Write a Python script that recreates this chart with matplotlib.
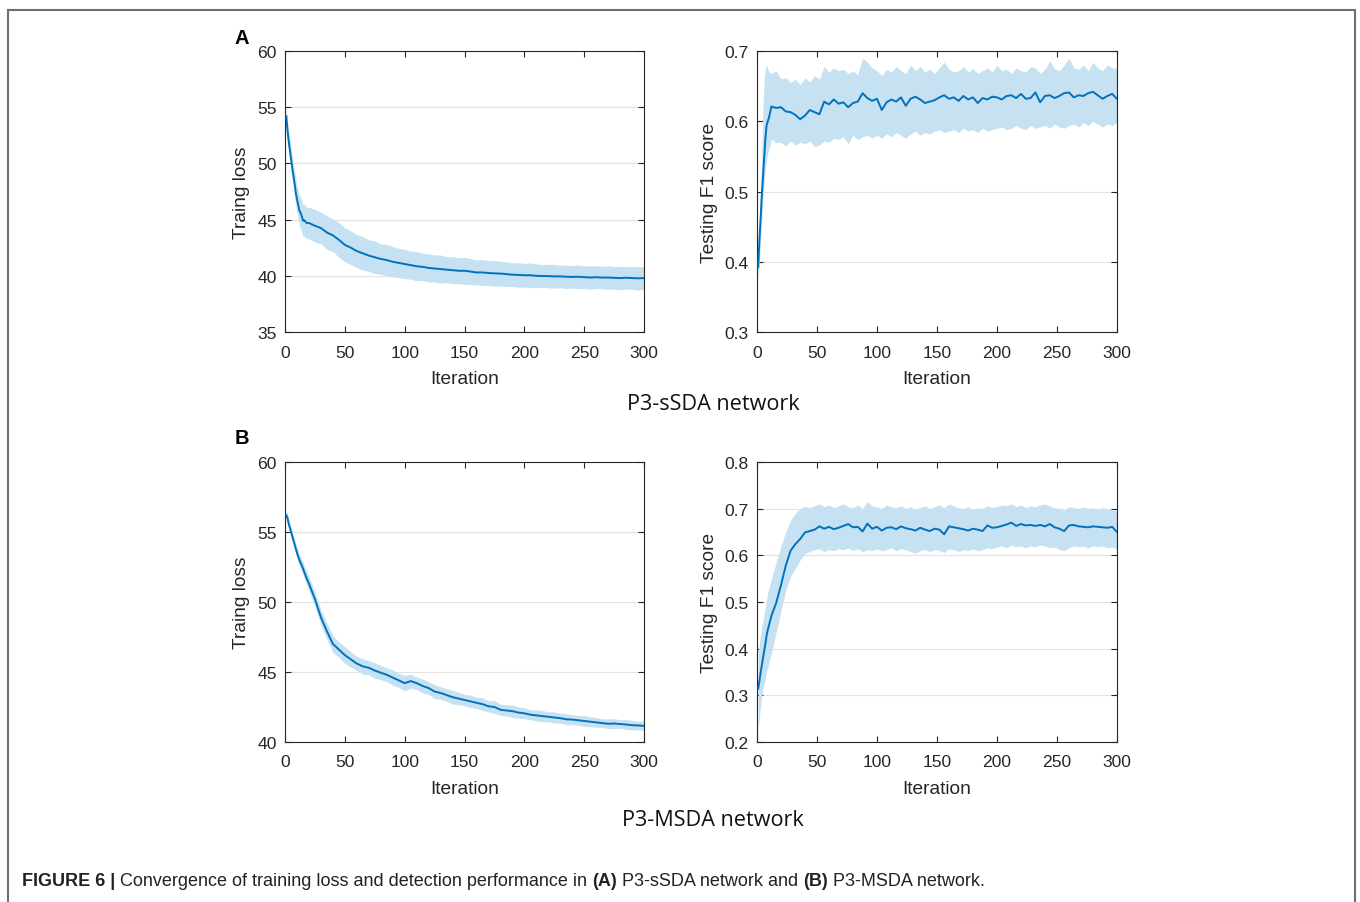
import matplotlib
matplotlib.use('Agg')
import matplotlib.pyplot as plt
from matplotlib.patches import Rectangle

# ---- data ---------------------------------------------------------------
iters_loss = [1, 2, 3, 4, 5, 6, 7, 8, 9, 10, 11, 12, 13, 14, 15, 16, 18, 20] + list(range(25, 301, 5))
iters_f1 = [1, 2, 3, 4, 5, 6, 7, 8, 9, 10] + list(range(12, 301, 4))
iter_ticks = [0, 50, 100, 150, 200, 250, 300]

# (A) P3-sSDA: training loss mean and half band width
loss_a_mean = [54.2, 53.0, 52.0, 51.2, 50.4, 49.6, 48.9, 48.2, 47.4, 46.8, 46.3, 45.8, 45.6, 45.3, 44.9, 44.95, 44.7, 44.7,
               44.45, 44.25, 43.85, 43.6, 43.2, 42.75, 42.5, 42.2, 42.0, 41.8,
               41.65, 41.5, 41.4, 41.25, 41.15, 41.05, 40.95, 40.85, 40.8, 40.7,
               40.65, 40.6, 40.55, 40.5, 40.45, 40.45, 40.38, 40.3, 40.3, 40.25,
               40.22, 40.2, 40.15, 40.1, 40.08, 40.05, 40.05, 40.0, 39.98, 39.98,
               39.95, 39.95, 39.92, 39.9, 39.92, 39.88, 39.85, 39.88, 39.84, 39.85,
               39.82, 39.8, 39.83, 39.8, 39.78, 39.8]
loss_a_spread = [0.8, 0.85, 0.9, 0.95, 1.0, 1.05, 1.1, 1.15, 1.2, 1.25, 1.3, 1.35, 1.4, 1.4, 1.4, 1.45, 1.4, 1.4,
                 1.45, 1.4, 1.5, 1.45, 1.55, 1.5, 1.5, 1.45, 1.5, 1.4,
                 1.45, 1.35, 1.4, 1.35, 1.3, 1.3, 1.25, 1.3, 1.2, 1.25,
                 1.2, 1.25, 1.15, 1.2, 1.15, 1.2, 1.15, 1.1, 1.15, 1.1,
                 1.15, 1.1, 1.1, 1.05, 1.1, 1.05, 1.1, 1.05, 1.0, 1.05,
                 1.05, 1.0, 1.05, 1.0, 1.05, 1.0, 1.05, 1.0, 1.0, 1.05,
                 1.0, 1.05, 1.0, 1.0, 1.05, 1.0]

# (A) P3-sSDA: testing F1 mean, upper and lower band
f1_a_mean = [0.392, 0.43, 0.46, 0.494, 0.52, 0.548, 0.575, 0.594, 0.6, 0.605,
             0.621, 0.619, 0.62, 0.614, 0.613, 0.609, 0.603, 0.608, 0.616, 0.613,
             0.61, 0.628, 0.624, 0.631, 0.625, 0.627, 0.62, 0.626, 0.628, 0.64,
             0.633, 0.629, 0.632, 0.616, 0.627, 0.631, 0.628, 0.634, 0.622, 0.632,
             0.635, 0.631, 0.626, 0.628, 0.63, 0.634, 0.637, 0.632, 0.634, 0.629,
             0.636, 0.631, 0.634, 0.626, 0.633, 0.631, 0.635, 0.634, 0.631, 0.636,
             0.637, 0.633, 0.639, 0.632, 0.633, 0.641, 0.627, 0.636, 0.637, 0.633,
             0.636, 0.64, 0.641, 0.634, 0.637, 0.636, 0.64, 0.642, 0.637, 0.632,
             0.636, 0.639, 0.632]
f1_a_upper = [0.40, 0.45, 0.5, 0.56, 0.62, 0.66, 0.675, 0.68, 0.675, 0.67,
              0.668, 0.672, 0.66, 0.662, 0.655, 0.66, 0.652, 0.662, 0.656, 0.665,
              0.66, 0.678, 0.67, 0.676, 0.672, 0.674, 0.668, 0.672, 0.666, 0.69,
              0.684, 0.676, 0.672, 0.665, 0.674, 0.67, 0.678, 0.672, 0.668, 0.68,
              0.672, 0.678, 0.67, 0.674, 0.668, 0.676, 0.684, 0.674, 0.67, 0.672,
              0.678, 0.67, 0.675, 0.668, 0.672, 0.676, 0.67, 0.68, 0.672, 0.674,
              0.668, 0.676, 0.672, 0.67, 0.678, 0.676, 0.668, 0.674, 0.686, 0.675,
              0.672, 0.68, 0.69, 0.676, 0.674, 0.68, 0.672, 0.684, 0.676, 0.672,
              0.68, 0.676, 0.676]
f1_a_lower = [0.37, 0.40, 0.43, 0.46, 0.49, 0.51, 0.53, 0.545, 0.555, 0.56,
              0.575, 0.57, 0.57, 0.565, 0.572, 0.566, 0.57, 0.568, 0.572, 0.564,
              0.566, 0.572, 0.57, 0.576, 0.574, 0.578, 0.568, 0.58, 0.574, 0.578,
              0.58, 0.576, 0.58, 0.576, 0.582, 0.578, 0.584, 0.58, 0.576, 0.582,
              0.586, 0.58, 0.584, 0.582, 0.586, 0.588, 0.584, 0.586, 0.588, 0.584,
              0.59, 0.586, 0.588, 0.584, 0.59, 0.586, 0.588, 0.59, 0.592, 0.588,
              0.59, 0.594, 0.59, 0.588, 0.594, 0.59, 0.592, 0.594, 0.59, 0.596,
              0.592, 0.59, 0.594, 0.596, 0.592, 0.598, 0.594, 0.6, 0.596, 0.592,
              0.596, 0.594, 0.598]

# (B) P3-MSDA: training loss mean and half band width
loss_b_mean = [56.2, 56.0, 55.6, 55.3, 55.0, 54.7, 54.4, 54.1, 53.8, 53.5, 53.25, 53.0, 52.8, 52.6, 52.4, 52.15, 51.7, 51.3,
               50.2, 48.9, 47.9, 47.0, 46.6, 46.2, 45.9, 45.6, 45.4, 45.3,
               45.1, 44.95, 44.8, 44.6, 44.4, 44.2, 44.35, 44.2, 44.0, 43.85,
               43.6, 43.5, 43.35, 43.2, 43.1, 43.0, 42.9, 42.8, 42.7, 42.55,
               42.5, 42.3, 42.25, 42.2, 42.1, 42.05, 41.95, 41.9, 41.85, 41.8,
               41.75, 41.7, 41.62, 41.6, 41.55, 41.5, 41.45, 41.4, 41.35, 41.3,
               41.32, 41.28, 41.25, 41.2, 41.18, 41.15]
loss_b_spread = [0.3, 0.3, 0.32, 0.33, 0.35, 0.35, 0.36, 0.37, 0.38, 0.4, 0.4, 0.42, 0.42, 0.44, 0.45, 0.45, 0.48, 0.5,
                 0.55, 0.55, 0.6, 0.6, 0.55, 0.6, 0.55, 0.5, 0.55, 0.5,
                 0.55, 0.5, 0.5, 0.55, 0.5, 0.55, 0.5, 0.45, 0.5, 0.45,
                 0.5, 0.45, 0.45, 0.5, 0.45, 0.4, 0.45, 0.4, 0.45, 0.4,
                 0.45, 0.4, 0.4, 0.45, 0.4, 0.4, 0.35, 0.4, 0.4, 0.35,
                 0.4, 0.35, 0.4, 0.35, 0.35, 0.4, 0.35, 0.35, 0.3, 0.35,
                 0.35, 0.3, 0.35, 0.35, 0.3, 0.35]

# (B) P3-MSDA: testing F1 mean, upper and lower band
f1_b_mean = [0.314, 0.33, 0.348, 0.364, 0.38, 0.395, 0.41, 0.428, 0.44, 0.45,
             0.47, 0.498, 0.536, 0.578, 0.61, 0.624, 0.635, 0.649, 0.652, 0.655,
             0.662, 0.657, 0.661, 0.656, 0.659, 0.663, 0.667, 0.66, 0.661, 0.651,
             0.668, 0.657, 0.661, 0.653, 0.659, 0.66, 0.656, 0.662, 0.658, 0.656,
             0.653, 0.659, 0.655, 0.652, 0.657, 0.655, 0.645, 0.662, 0.66, 0.658,
             0.656, 0.653, 0.657, 0.655, 0.652, 0.664, 0.659, 0.66, 0.663, 0.666,
             0.67, 0.663, 0.667, 0.664, 0.665, 0.663, 0.665, 0.662, 0.667, 0.66,
             0.657, 0.652, 0.664, 0.665, 0.662, 0.661, 0.66, 0.662, 0.661, 0.66,
             0.659, 0.661, 0.65]
f1_b_upper = [0.393, 0.41, 0.43, 0.449, 0.46, 0.475, 0.49, 0.506, 0.52, 0.53,
              0.55, 0.585, 0.62, 0.65, 0.675, 0.69, 0.7, 0.705, 0.702, 0.706,
              0.71, 0.704, 0.708, 0.702, 0.706, 0.71, 0.704, 0.702, 0.708, 0.7,
              0.715, 0.706, 0.704, 0.7, 0.708, 0.704, 0.702, 0.706, 0.7, 0.704,
              0.698, 0.702, 0.706, 0.7, 0.704, 0.708, 0.702, 0.71, 0.706, 0.702,
              0.7, 0.704, 0.698, 0.702, 0.7, 0.706, 0.702, 0.704, 0.708, 0.706,
              0.71, 0.704, 0.708, 0.702, 0.706, 0.704, 0.708, 0.71, 0.706, 0.702,
              0.7, 0.696, 0.704, 0.702, 0.7, 0.704, 0.7, 0.702, 0.698, 0.702,
              0.7, 0.698, 0.694]
f1_b_lower = [0.22, 0.25, 0.28, 0.3, 0.315, 0.325, 0.338, 0.35, 0.36, 0.37,
              0.39, 0.435, 0.48, 0.525, 0.555, 0.572, 0.59, 0.604, 0.608, 0.612,
              0.614, 0.608, 0.612, 0.61, 0.614, 0.612, 0.616, 0.61, 0.614, 0.608,
              0.612, 0.61, 0.614, 0.61, 0.612, 0.616, 0.61, 0.614, 0.612, 0.608,
              0.604, 0.61, 0.612, 0.608, 0.612, 0.61, 0.606, 0.614, 0.612, 0.608,
              0.612, 0.61, 0.614, 0.61, 0.612, 0.616, 0.614, 0.618, 0.62, 0.616,
              0.622, 0.618, 0.62, 0.616, 0.62, 0.618, 0.622, 0.62, 0.616, 0.618,
              0.612, 0.61, 0.616, 0.62, 0.618, 0.62, 0.616, 0.62, 0.618, 0.62,
              0.616, 0.618, 0.612]

caption_parts = ['FIGURE 6 | ', 'Convergence of training loss and detection performance in ',
                 '(A)', ' P3-sSDA network and ', '(B)', ' P3-MSDA network.']
caption_weights = ['bold', 'normal', 'bold', 'normal', 'bold', 'normal']

LINE = '#0072bd'
BAND = '#c6e1f2'
AXC = '#262626'

plt.rcParams['font.family'] = ['Liberation Sans', 'DejaVu Sans']


def draw_panel(fig, rect, x, mean, lower, upper, ylim, yticks, ylabel, ylab_x, fmt):
    ax = fig.add_axes(rect)
    ax.fill_between(x, lower, upper, color=BAND, lw=0, zorder=2)
    ax.plot(x, mean, color=LINE, lw=1.4, zorder=3)
    ax.set_xlim(0, 300)
    ax.set_ylim(*ylim)
    ax.set_xticks(iter_ticks)
    ax.set_yticks(yticks)
    ax.set_yticklabels([fmt.format(v) for v in yticks])
    ax.grid(axis='y', color='#e2e2e2', lw=0.8, zorder=1)
    ax.set_axisbelow(True)
    ax.tick_params(direction='in', top=True, right=True, length=4, width=0.8,
                   color=AXC, labelcolor=AXC, labelsize=12.6)
    ax.tick_params(axis='x', pad=9)
    ax.tick_params(axis='y', pad=6)
    for s in ax.spines.values():
        s.set_color(AXC)
        s.set_linewidth(0.8)
    ax.set_xlabel('Iteration', fontsize=13.8, color=AXC)
    ax.xaxis.set_label_coords(0.5, -0.135)
    ax.set_ylabel(ylabel, fontsize=13.8, color=AXC)
    ax.yaxis.set_label_coords(ylab_x, 0.5)
    return ax


fig = plt.figure(figsize=(13.6, 9.03), dpi=100)

# outer frame of the figure page
fig.patches.append(Rectangle((0.0059, -0.05), 0.9904, 1.0378, transform=fig.transFigure,
                             fill=False, edgecolor='#6e6e6e', lw=1.5))

loss_a_lo = [m - s for m, s in zip(loss_a_mean, loss_a_spread)]
loss_a_hi = [m + s for m, s in zip(loss_a_mean, loss_a_spread)]
loss_b_lo = [m - s for m, s in zip(loss_b_mean, loss_b_spread)]
loss_b_hi = [m + s for m, s in zip(loss_b_mean, loss_b_spread)]

draw_panel(fig, [0.2096, 0.6312, 0.2640, 0.3112], iters_loss, loss_a_mean, loss_a_lo, loss_a_hi,
           (35, 60), [35, 40, 45, 50, 55, 60], 'Traing loss', -0.0975, '{:g}')
draw_panel(fig, [0.5566, 0.6312, 0.2647, 0.3112], iters_f1, f1_a_mean, f1_a_lower, f1_a_upper,
           (0.3, 0.7), [0.3, 0.4, 0.5, 0.6, 0.7], 'Testing F1 score', -0.108, '{:.1f}')
draw_panel(fig, [0.2096, 0.1772, 0.2640, 0.3101], iters_loss, loss_b_mean, loss_b_lo, loss_b_hi,
           (40, 60), [40, 45, 50, 55, 60], 'Traing loss', -0.0975, '{:g}')
draw_panel(fig, [0.5566, 0.1772, 0.2647, 0.3101], iters_f1, f1_b_mean, f1_b_lower, f1_b_upper,
           (0.2, 0.8), [0.2, 0.3, 0.4, 0.5, 0.6, 0.7, 0.8], 'Testing F1 score', -0.108, '{:.1f}')

fig.text(241.5 / 1360, 1 - 38 / 903, 'A', fontsize=14.5, fontweight='bold', ha='center', va='center')
fig.text(241.5 / 1360, 1 - 438 / 903, 'B', fontsize=14.5, fontweight='bold', ha='center', va='center')

fig.text(713 / 1360, 1 - 405 / 903, 'P3-sSDA network', fontsize=15.6, family='Open Sans',
         ha='center', va='center', color='#111111')
fig.text(713 / 1360, 1 - 821 / 903, 'P3-MSDA network', fontsize=15.6, family='Open Sans',
         ha='center', va='center', color='#111111')

# caption: bold and regular pieces placed one after another
anchor = fig.text(22 / 1360, 1 - 886 / 903, caption_parts[0], fontsize=13,
                  fontweight=caption_weights[0], va='baseline', color='#222222')
for txt, wt in zip(caption_parts[1:], caption_weights[1:]):
    anchor = fig.axes[0].annotate(txt, xy=(1, 0), xycoords=anchor, fontsize=13, fontweight=wt,
                                  va='bottom', ha='left', color='#222222', annotation_clip=False)

fig.savefig('out.png', dpi=100)
